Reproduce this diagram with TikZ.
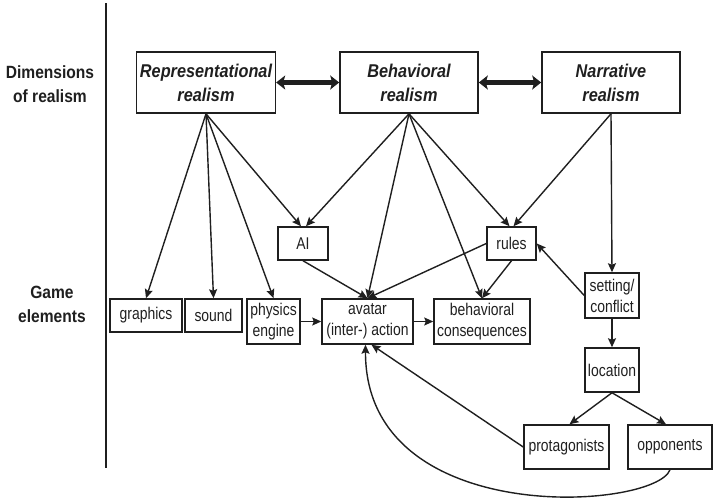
\documentclass[tikz,border=0pt]{standalone}
\usepackage{fontspec}
\setmainfont[FakeStretch=0.88]{Liberation Sans}
\newfontfamily\narrowfont[FakeStretch=0.82]{Liberation Sans}
\usetikzlibrary{arrows.meta}
\definecolor{ink}{gray}{0.12}

\begin{document}
\begin{tikzpicture}[x=1pt,y=-1pt,ink,line width=1.4pt,
    >={Stealth[length=9pt,width=8pt,inset=1.5pt]},
    dimbox/.style={draw, line width=1.6pt, minimum width=138pt, minimum height=61pt,
        align=center, font=\fontsize{18.5}{24}\selectfont\bfseries\itshape},
    elem/.style={draw, line width=1.5pt, inner sep=1pt, minimum height=33pt,
        align=center, font=\narrowfont\fontsize{17}{21}\selectfont},
    twoway/.style={line width=4.5pt, {Stealth[length=9pt,width=14pt,inset=2pt]}-{Stealth[length=9pt,width=14pt,inset=2pt]}},
    side/.style={align=center, font=\fontsize{17.7}{24}\selectfont\bfseries}]
    \useasboundingbox (0,0) rectangle (713,499);

    % side labels
    \node[side] (dimlabel) at (50,84) {Dimensions\\of realism};
    \node[side] (gamelabel) at (52,304.5) {Game\\elements};
    \draw[line width=1.6pt] (106,3) -- (106,468);

    % dimensions
    \node[dimbox] (rep) at (206,82.5) {Representational\\realism};
    \node[dimbox] (beh) at (409,82.5) {Behavioral\\realism};
    \node[dimbox] (nar) at (611,82.5) {Narrative\\realism};

    % game elements
    \node[elem, minimum width=50pt] (ai) at (303,243.5) {AI};
    \node[elem, minimum width=49pt] (rules) at (511.5,243.5) {rules};
    \node[elem, minimum width=72pt] (graphics) at (146,315.5) {graphics};
    \node[elem, minimum width=57pt] (sound) at (213.5,315.5) {sound};
    \node[elem, minimum width=53pt, minimum height=45pt] (physics) at (273.5,321.5) {physics\\engine};
    \node[elem, minimum width=91pt, minimum height=45pt] (avatar) at (367.5,321.5) {avatar\\(inter-) action};
    \node[elem, minimum width=96pt, minimum height=45pt] (cons) at (482,321.5) {behavioral\\consequences};
    \node[elem, minimum width=54pt, minimum height=45pt] (setting) at (612,295.5) {setting/\\conflict};
    \node[elem, minimum width=54pt, minimum height=44pt] (location) at (612,370) {location};
    \node[elem, minimum width=85pt, minimum height=44pt] (prot) at (566.5,447) {protagonists};
    \node[elem, minimum width=84pt, minimum height=44pt] (opp) at (670,447) {opponents};

    % links between dimensions
    \draw[twoway] (rep) -- (beh);
    \draw[twoway] (beh) -- (nar);

    % from the dimensions
    \draw[->] (rep.south) -- (graphics.north);
    \draw[->] (rep.south) -- (sound.north);
    \draw[->] (rep.south) -- (physics.north);
    \draw[->] (rep.south) -- ([xshift=-2pt]ai.north);
    \draw[->] (beh.south) -- ([xshift=3pt]ai.north);
    \draw[->] (beh.south) -- (avatar.north);
    \draw[->] (beh.south) -- (cons.north);
    \draw[->] (beh.south) -- ([xshift=-2pt]rules.north);
    \draw[->] (nar.south) -- ([xshift=2pt]rules.north);
    \draw[->] (nar.south) -- (setting.north);

    % between the elements
    \draw[->] (ai.south) -- (avatar.north);
    \draw[->] (rules.west) -- (avatar.north);
    \draw[->] (rules.south) -- (cons.north);
    \draw[->] (setting.west) -- (rules.east);
    \draw[->] (physics) -- (avatar);
    \draw[->] (avatar) -- (cons);
    \draw[->] (setting) -- (location);
    \draw[->] (location.south) -- ([xshift=3pt]prot.north);
    \draw[->] (location.south) -- ([xshift=-4pt]opp.north);
    \draw[->] (prot.west) -- ([xshift=4pt]avatar.south);
    \draw[->] (opp.south) .. controls (655,510) and (365,530) .. ([xshift=-2pt]avatar.south);
\end{tikzpicture}
\end{document}
